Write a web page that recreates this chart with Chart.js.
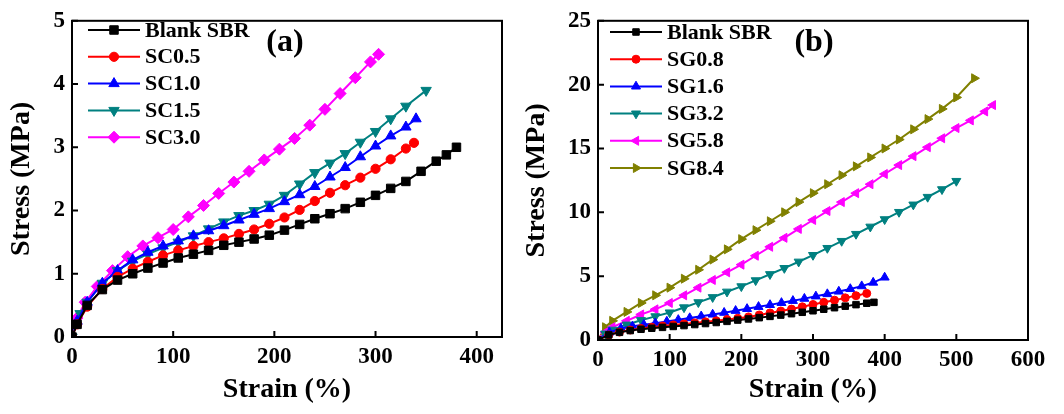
<!DOCTYPE html>
<html>
<head>
<meta charset="utf-8">
<script src="https://cdn.jsdelivr.net/npm/chart.js@4.4.1/dist/chart.umd.min.js"></script>
<style>
  html, body { margin: 0; padding: 0; background: #fff; }
  #wrap { position: relative; width: 1064px; height: 414px; overflow: hidden; background: #fff; }
  canvas { position: absolute; top: 0; }
  #chartA { left: 0; }
  #chartB { left: 515px; }
</style>
</head>
<body>
<div id="wrap">
  <canvas id="chartA" width="530" height="414"></canvas>
  <canvas id="chartB" width="549" height="414"></canvas>
</div>
<script>
// ---- panel (a): SBR / SC composites ----
const aBlankStrain = [0, 5, 15, 30, 45, 60, 75, 90, 105, 120, 135, 150, 165, 180, 195, 210, 225, 240, 255, 270, 285, 300, 315, 330, 345, 360, 370, 380];
const aBlankStress = [0, 0.2, 0.5, 0.75, 0.9, 1.0, 1.09, 1.17, 1.25, 1.31, 1.37, 1.45, 1.5, 1.55, 1.61, 1.69, 1.78, 1.87, 1.95, 2.03, 2.13, 2.24, 2.35, 2.46, 2.62, 2.78, 2.88, 3.0];
const sc05Strain = [0, 5, 15, 30, 45, 60, 75, 90, 105, 120, 135, 150, 165, 180, 195, 210, 225, 240, 255, 270, 285, 300, 315, 330, 338];
const sc05Stress = [0, 0.2, 0.48, 0.76, 0.95, 1.08, 1.19, 1.29, 1.37, 1.44, 1.5, 1.56, 1.63, 1.7, 1.79, 1.89, 2.01, 2.15, 2.28, 2.4, 2.52, 2.66, 2.81, 2.98, 3.07];
const sc10Strain = [0, 5, 15, 30, 45, 60, 75, 90, 105, 120, 135, 150, 165, 180, 195, 210, 225, 240, 255, 270, 285, 300, 315, 330, 340];
const sc10Stress = [0, 0.25, 0.55, 0.85, 1.05, 1.22, 1.34, 1.44, 1.52, 1.6, 1.68, 1.76, 1.85, 1.94, 2.03, 2.14, 2.25, 2.38, 2.53, 2.68, 2.85, 3.02, 3.18, 3.32, 3.45];
const sc15Strain = [0, 8, 15, 30, 45, 60, 75, 90, 105, 120, 135, 150, 165, 180, 195, 210, 225, 240, 255, 270, 285, 300, 315, 330, 350];
const sc15Stress = [0, 0.37, 0.55, 0.85, 1.05, 1.2, 1.31, 1.41, 1.5, 1.6, 1.71, 1.82, 1.92, 2.0, 2.1, 2.24, 2.42, 2.6, 2.75, 2.9, 3.08, 3.25, 3.45, 3.65, 3.9];
const sc30Strain = [0, 5, 13, 25, 40, 55, 70, 85, 100, 115, 130, 145, 160, 175, 190, 205, 220, 235, 250, 265, 280, 295, 303];
const sc30Stress = [0, 0.3, 0.55, 0.8, 1.05, 1.27, 1.44, 1.57, 1.7, 1.9, 2.08, 2.27, 2.45, 2.62, 2.8, 2.97, 3.14, 3.35, 3.6, 3.85, 4.1, 4.35, 4.47];

// ---- panel (b): SBR / SG composites ----
const bBlankStrain = [0, 15, 30, 45, 60, 75, 90, 105, 120, 135, 150, 165, 180, 195, 210, 225, 240, 255, 270, 285, 300, 315, 330, 345, 360, 375, 385];
const bBlankStress = [0, 0.4, 0.6, 0.74, 0.84, 0.92, 0.99, 1.06, 1.13, 1.21, 1.29, 1.37, 1.46, 1.56, 1.65, 1.75, 1.85, 1.95, 2.06, 2.17, 2.29, 2.41, 2.53, 2.65, 2.77, 2.88, 2.95];
const sg08Strain = [0, 15, 30, 45, 60, 75, 90, 105, 120, 135, 150, 165, 180, 195, 210, 225, 240, 255, 270, 285, 300, 315, 330, 345, 360, 375];
const sg08Stress = [0, 0.4, 0.62, 0.78, 0.9, 1.0, 1.1, 1.18, 1.26, 1.34, 1.42, 1.5, 1.6, 1.7, 1.81, 1.96, 2.12, 2.27, 2.42, 2.6, 2.78, 2.95, 3.12, 3.3, 3.47, 3.65];
const sg16Strain = [0, 16, 32, 48, 64, 80, 96, 112, 128, 144, 160, 176, 192, 208, 224, 240, 256, 272, 288, 304, 320, 336, 352, 368, 384, 400];
const sg16Stress = [0, 0.6, 0.9, 1.08, 1.2, 1.32, 1.45, 1.58, 1.72, 1.86, 2.0, 2.14, 2.29, 2.44, 2.6, 2.75, 2.91, 3.07, 3.24, 3.42, 3.6, 3.8, 4.0, 4.22, 4.5, 4.9];
const sg32Strain = [0, 10, 20, 40, 60, 80, 100, 120, 140, 160, 180, 200, 220, 240, 260, 280, 300, 320, 340, 360, 380, 400, 420, 440, 460, 480, 500];
const sg32Stress = [0, 0.5, 0.8, 1.2, 1.55, 1.85, 2.15, 2.55, 2.95, 3.35, 3.78, 4.2, 4.67, 5.15, 5.63, 6.13, 6.65, 7.2, 7.75, 8.3, 8.87, 9.45, 10.02, 10.6, 11.2, 11.8, 12.45];
const sg58Strain = [0, 10, 20, 40, 60, 80, 100, 120, 140, 160, 180, 200, 220, 240, 260, 280, 300, 320, 340, 360, 380, 400, 420, 440, 460, 480, 500, 520, 540, 551];
const sg58Stress = [0, 0.6, 1.0, 1.5, 2.0, 2.4, 2.9, 3.5, 4.1, 4.7, 5.3, 5.9, 6.6, 7.3, 8.0, 8.7, 9.4, 10.1, 10.8, 11.5, 12.2, 13.0, 13.7, 14.4, 15.1, 15.8, 16.6, 17.2, 17.9, 18.4];
const sg84Strain = [0, 10, 20, 40, 60, 80, 100, 120, 140, 160, 180, 200, 220, 240, 260, 280, 300, 320, 340, 360, 380, 400, 420, 440, 460, 480, 500, 525];
const sg84Stress = [0, 1.0, 1.5, 2.2, 2.9, 3.5, 4.1, 4.8, 5.5, 6.3, 7.1, 7.9, 8.6, 9.3, 10.0, 10.8, 11.5, 12.2, 12.9, 13.6, 14.3, 15.0, 15.7, 16.5, 17.3, 18.1, 19.0, 20.5];

const FONT = '"Liberation Serif", "Times New Roman", serif';

function pts(xs, ys) {
  return xs.map((x, i) => ({ x: x, y: ys[i] }));
}

function series(label, xs, ys, color, style, rot, r) {
  return {
    label: label,
    data: pts(xs, ys),
    borderColor: color,
    backgroundColor: color,
    pointBackgroundColor: color,
    pointBorderColor: color,
    pointStyle: style,
    rotation: rot,
    pointRadius: r,
    pointBorderWidth: 1,
    borderWidth: 2,
    tension: 0,
  };
}

// frame, inward ticks, legend with line+marker, panel tag
const panelDeco = {
  id: "panelDeco",
  afterDraw(chart, args, opts) {
    const ctx = chart.ctx;
    const ca = chart.chartArea;
    ctx.save();
    ctx.strokeStyle = "#000";
    ctx.lineWidth = 2;
    ctx.strokeRect(ca.left, ca.top, ca.right - ca.left, ca.bottom - ca.top);

    const xs = chart.scales.x, ys = chart.scales.y;
    ctx.beginPath();
    xs.ticks.forEach((t) => {
      const p = xs.getPixelForValue(t.value);
      ctx.moveTo(p, ca.bottom);
      ctx.lineTo(p, ca.bottom - 6);
    });
    ys.ticks.forEach((t) => {
      const p = ys.getPixelForValue(t.value);
      ctx.moveTo(ca.left, p);
      ctx.lineTo(ca.left + 6, p);
    });
    ctx.stroke();

    // legend
    ctx.font = "bold 22px " + FONT;
    ctx.textBaseline = "middle";
    ctx.textAlign = "left";
    chart.data.datasets.forEach((ds, i) => {
      const y = opts.y + i * opts.gap;
      ctx.strokeStyle = ds.borderColor;
      ctx.fillStyle = ds.borderColor;
      ctx.lineWidth = 2;
      ctx.beginPath();
      ctx.moveTo(opts.x, y);
      ctx.lineTo(opts.x + opts.len, y);
      ctx.stroke();
      ctx.lineWidth = 1;
      Chart.helpers.drawPoint(ctx, {
        pointStyle: ds.pointStyle,
        radius: ds.pointRadius,
        rotation: ds.rotation || 0,
        borderWidth: 1,
      }, opts.x + opts.len / 2, y);
      ctx.fillStyle = "#000";
      ctx.fillText(ds.label, opts.x + opts.len + 5, y + 1);
    });

    ctx.font = "bold 32px " + FONT;
    ctx.textAlign = "center";
    ctx.fillStyle = "#000";
    ctx.fillText(opts.tag, opts.tagX, opts.tagY);
    ctx.restore();
  },
};

function axes(xMax, xStep, yMax, yStep, yWidth, xHeight) {
  const tickFont = { family: FONT, size: 23, weight: "bold" };
  const titleFont = { family: FONT, size: 28, weight: "bold" };
  return {
    x: {
      type: "linear",
      min: 0,
      max: xMax,
      grid: { display: false, drawTicks: false },
      border: { display: false },
      ticks: { stepSize: xStep, includeBounds: false, padding: 6, color: "#000", font: tickFont, maxRotation: 0 },
      title: { display: true, text: "Strain (%)", color: "#000", font: titleFont, padding: { top: 0, bottom: 7 } },
      afterFit: (s) => { s.height = xHeight; },
    },
    y: {
      min: 0,
      max: yMax,
      grid: { display: false, drawTicks: false },
      border: { display: false },
      ticks: { stepSize: yStep, padding: 7, color: "#000", font: tickFont },
      title: { display: true, text: "Stress (MPa)", color: "#000", font: titleFont, padding: { top: 5, bottom: 0 } },
      afterFit: (s) => { s.width = yWidth; },
    },
  };
}

new Chart(document.getElementById("chartA"), {
  type: "line",
  data: {
    datasets: [
      series("Blank SBR", aBlankStrain, aBlankStress, "#000000", "rect", 0, 6),
      series("SC0.5", sc05Strain, sc05Stress, "#ff0000", "circle", 0, 4.6),
      series("SC1.0", sc10Strain, sc10Stress, "#0000ff", "triangle", 0, 6),
      series("SC1.5", sc15Strain, sc15Stress, "#008080", "triangle", 180, 6),
      series("SC3.0", sc30Strain, sc30Stress, "#ff00ff", "rectRot", 0, 6),
    ],
  },
  options: {
    responsive: false,
    devicePixelRatio: 1,
    animation: false,
    layout: { padding: { left: 0, top: 17, right: 28, bottom: 0 } },
    scales: axes(425, 100, 5, 1, 72, 77),
    plugins: {
      legend: { display: false },
      tooltip: { enabled: false },
      panelDeco: { x: 88, y: 30, gap: 26.8, len: 52, tag: "(a)", tagX: 285, tagY: 43 },
    },
  },
  plugins: [panelDeco],
});

new Chart(document.getElementById("chartB"), {
  type: "line",
  data: {
    datasets: [
      series("Blank SBR", bBlankStrain, bBlankStress, "#000000", "rect", 0, 4.6),
      series("SG0.8", sg08Strain, sg08Stress, "#ff0000", "circle", 0, 4),
      series("SG1.6", sg16Strain, sg16Stress, "#0000ff", "triangle", 0, 5.2),
      series("SG3.2", sg32Strain, sg32Stress, "#008080", "triangle", 180, 5.2),
      series("SG5.8", sg58Strain, sg58Stress, "#ff00ff", "triangle", 270, 5.2),
      series("SG8.4", sg84Strain, sg84Stress, "#808000", "triangle", 90, 5.2),
    ],
  },
  options: {
    responsive: false,
    devicePixelRatio: 1,
    animation: false,
    layout: { padding: { left: 0, top: 14, right: 36, bottom: 0 } },
    scales: axes(600, 100, 25, 5, 83, 74),
    plugins: {
      legend: { display: false },
      tooltip: { enabled: false },
      panelDeco: { x: 95, y: 32, gap: 27.2, len: 52, tag: "(b)", tagX: 299, tagY: 43 },
    },
  },
  plugins: [panelDeco],
});
</script>
</body>
</html>
